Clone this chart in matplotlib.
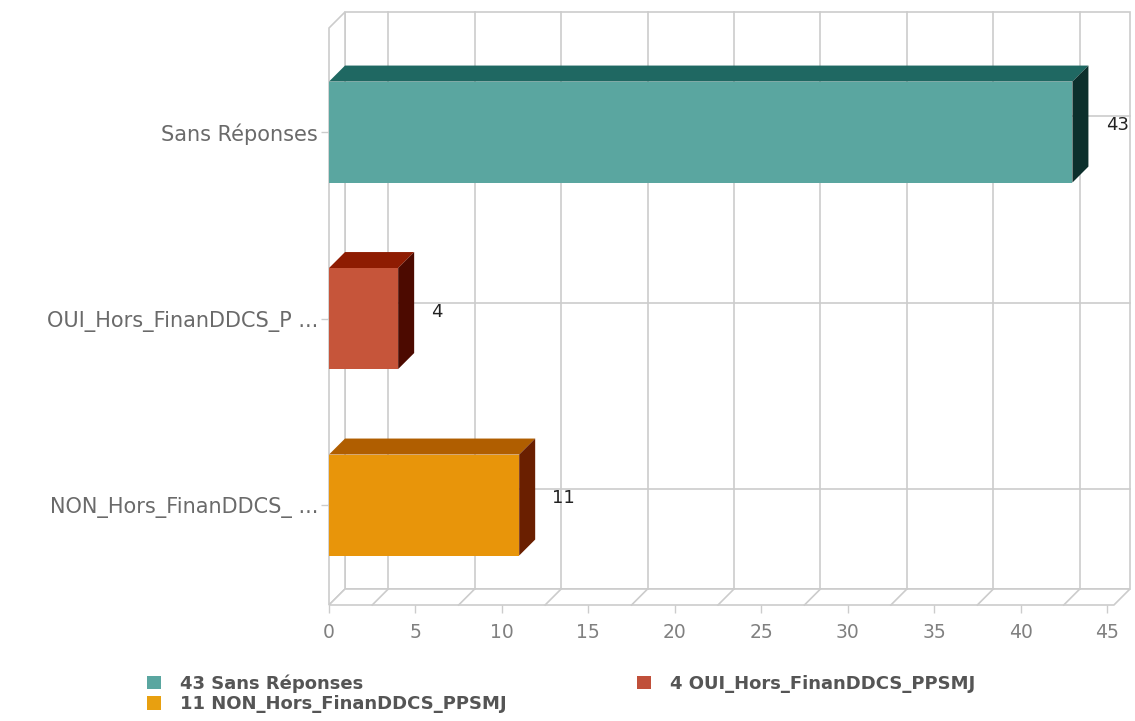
import matplotlib
matplotlib.use("Agg")
import matplotlib.pyplot as plt
from matplotlib.patches import Polygon, Patch

categories = ["Sans Réponses", "OUI_Hors_FinanDDCS_P ...", "NON_Hors_FinanDDCS_ ..."]
legend_names = ["Sans Réponses", "OUI_Hors_FinanDDCS_PPSMJ", "NON_Hors_FinanDDCS_PPSMJ"]
values = [43, 4, 11]
front_colors = ["#5aa6a0", "#c6553a", "#e8950a"]
top_colors = ["#1f6862", "#8e1c02", "#b05e00"]
side_colors = ["#0c2f2c", "#4c0a00", "#6a1f00"]
legend_colors = ["#5aa6a0", "#c0503a", "#e8a010"]
x_ticks = list(range(0, 46, 5))

W, H = 1135, 721
fig = plt.figure(figsize=(W / 100, H / 100), dpi=100)
ax = fig.add_axes([329 / W, (H - 605) / H, (1107 - 329) / W, (605 - 28) / H])

y_pos = [2, 1, 0]
ylo, yhi = -0.536, 2.558
xmax = 45
ax.set_xlim(0, xmax)
ax.set_ylim(ylo, yhi)

# depth of the fake 3D box, in data units (about 16 px each way)
px_x = (1107 - 329) / xmax
px_y = (605 - 28) / (yhi - ylo)
DX = 16 / px_x
DY = 16 / px_y
xend = 45.4
grid_c = "#cccccc"

def poly(pts, fc, ec="none", lw=0, z=1):
    ax.add_patch(Polygon(pts, closed=True, facecolor=fc, edgecolor=ec,
                         linewidth=lw, zorder=z, clip_on=False))

# back wall, left wall and floor
poly([(DX, ylo + DY), (xend + DX, ylo + DY), (xend + DX, yhi + DY), (DX, yhi + DY)],
     "white", grid_c, 1.2, 0)
poly([(0, ylo), (DX, ylo + DY), (DX, yhi + DY), (0, yhi)], "white", grid_c, 1.2, 0)
poly([(0, ylo), (xend, ylo), (xend + DX, ylo + DY), (DX, ylo + DY)], "white", grid_c, 1.2, 0)

# grid on the back wall and floor
for k in range(9):
    gx = 2.5 + 5 * k
    ax.plot([gx + DX, gx + DX], [ylo + DY, yhi + DY], color=grid_c, lw=1.2, zorder=0.5, clip_on=False)
    ax.plot([gx, gx + DX], [ylo, ylo + DY], color=grid_c, lw=1.2, zorder=0.5, clip_on=False)
for y in y_pos:
    ax.plot([DX, xend + DX], [y + DY, y + DY], color=grid_c, lw=1.2, zorder=0.5, clip_on=False)
    ax.plot([0, DX], [y, y + DY], color=grid_c, lw=1.2, zorder=0.5, clip_on=False)

# 3D bars
bh = 101 / px_y
for y, v, fc, tc, sc in zip(y_pos, values, front_colors, top_colors, side_colors):
    b, t = y - bh / 2, y + bh / 2
    poly([(0, t), (v, t), (v + DX, t + DY), (DX, t + DY)], tc, z=3)
    poly([(v, b), (v + DX, b + DY), (v + DX, t + DY), (v, t)], sc, z=3)
    poly([(0, b), (v, b), (v, t), (0, t)], fc, z=4)
    ax.text(v + DX + 1.0, y + DY - 0.05, str(v), ha="left", va="center",
            fontsize=13, color="#222222", zorder=6, clip_on=False)

for s in ax.spines.values():
    s.set_visible(False)
ax.set_xticks(x_ticks)
ax.set_xticklabels([str(t) for t in x_ticks])
ax.set_yticks(y_pos)
ax.set_yticklabels(categories)
ax.tick_params(axis="x", length=6, width=1, color=grid_c, labelcolor="#808080",
               labelsize=13.5, pad=7)
ax.tick_params(axis="y", length=6, width=1, color=grid_c, labelcolor="#6a6a6a",
               labelsize=15, pad=2)

# legend: column-wise fill puts OUI alone in the second column
order = [0, 2, 1]
handles = [Patch(facecolor=legend_colors[i], edgecolor="none") for i in order]
labels = [f"{values[i]} {legend_names[i]}" for i in order]
fig.legend(handles, labels, ncol=2, loc="upper left",
           bbox_to_anchor=(138 / W, 1 - 665 / H), frameon=False, borderpad=0,
           handlelength=0.75, handleheight=0.75, handletextpad=1.1,
           labelspacing=0.15, columnspacing=7.2,
           prop={"weight": "bold", "size": 13}, labelcolor="#555555")

fig.savefig("out.png", dpi=100)
